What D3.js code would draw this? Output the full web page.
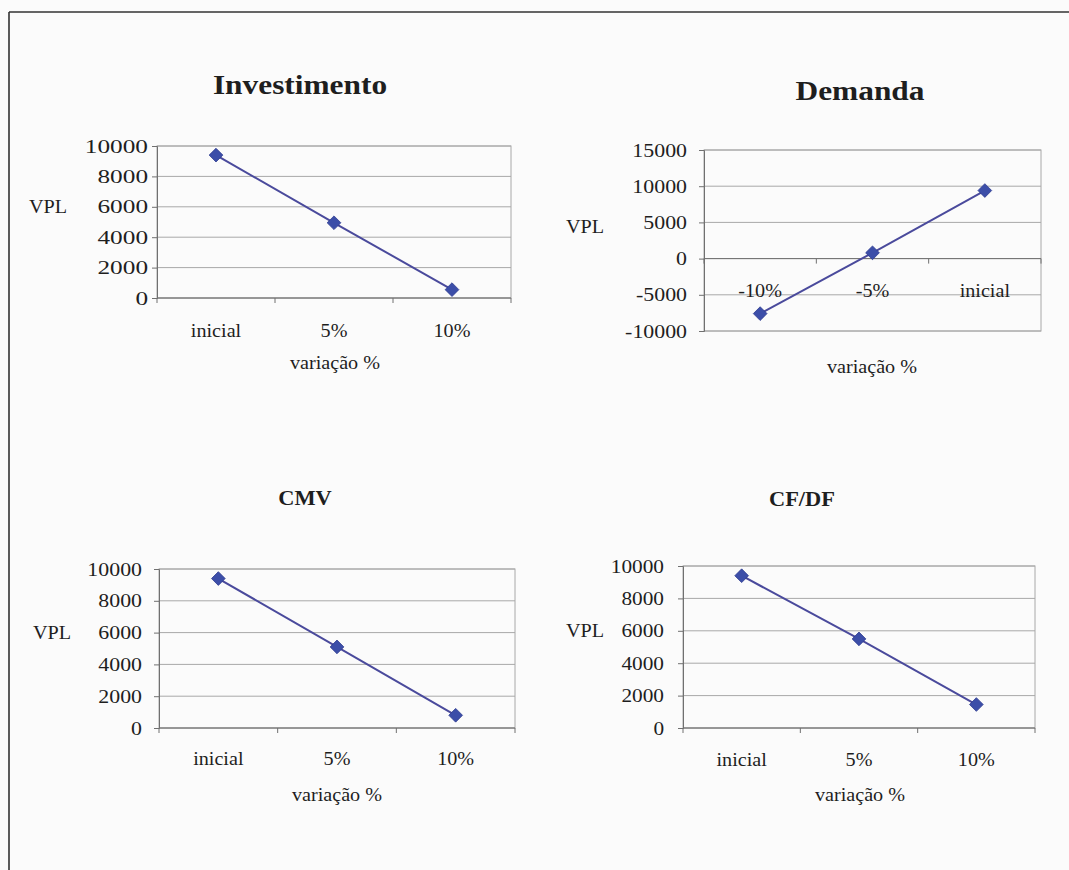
<!DOCTYPE html>
<html>
<head>
<meta charset="utf-8">
<script src="https://cdn.jsdelivr.net/npm/d3@7"></script>
<style>
  body { margin: 0; background: #fbfbfb; }
  svg text { font-family: "Liberation Serif", "Times New Roman", serif; fill: #1e1e1e; }
</style>
</head>
<body>
<svg id="chart" width="1069" height="870"></svg>
<script>
// values
const catsUp = ["inicial", "5%", "10%"];
const catsDemanda = ["-10%", "-5%", "inicial"];
const vplInvestimento = [9400, 4950, 550];
const vplDemanda = [-7600, 800, 9400];
const vplCmv = [9400, 5100, 800];
const vplCfdf = [9400, 5500, 1450];
const ticksPos = [0, 2000, 4000, 6000, 8000, 10000];
const ticksDemanda = [-10000, -5000, 0, 5000, 10000, 15000];

// layout of each panel
var panels = [
  { title: "Investimento", tsize: 28, cats: catsUp, vals: vplInvestimento, ticks: ticksPos, numStretch: 1.33,
    x0: 157, x1: 511, y0: 146, y1: 298, tx: 300, ty: 94, gap: 9, vx: 48, vy: 213, lx: 337, vax: 335, vay: 369 },
  { title: "Demanda", tsize: 28, cats: catsDemanda, vals: vplDemanda, ticks: ticksDemanda, numStretch: 1.15,
    x0: 704, x1: 1041, y0: 150, y1: 331, tx: 860, ty: 100, gap: 17, vx: 585, vy: 233, lx: 297, vax: 872, vay: 373 },
  { title: "CMV", tsize: 20, cats: catsUp, vals: vplCmv, ticks: ticksPos, numStretch: 1.15,
    x0: 159, x1: 515, y0: 569, y1: 728, tx: 305, ty: 505, gap: 17, vx: 52, vy: 639, lx: 765, vax: 337, vay: 801 },
  { title: "CF/DF", tsize: 20, cats: catsUp, vals: vplCfdf, ticks: ticksPos, numStretch: 1.12,
    x0: 683, x1: 1035, y0: 566, y1: 728, tx: 802, ty: 506, gap: 19, vx: 585, vy: 637, lx: 766, vax: 860, vay: 801 }
];

var svg = d3.select("#chart");

// widen a text node a little, the scanned text is wider than the font
function stretch(sel, k) {
  sel.each(function () {
    var w = this.getComputedTextLength();
    d3.select(this).attr("textLength", w * k).attr("lengthAdjust", "spacingAndGlyphs");
  });
}

// frame of the page (top and left edges only)
svg.append("line").attr("x1", 9).attr("x2", 1069).attr("y1", 12).attr("y2", 12)
  .attr("stroke", "#333").attr("stroke-width", 1.6);
svg.append("line").attr("x1", 9).attr("x2", 9).attr("y1", 12).attr("y2", 870)
  .attr("stroke", "#333").attr("stroke-width", 1.6);

panels.forEach(function (p) {
  var g = svg.append("g");

  var x = d3.scaleBand().domain(p.cats).range([p.x0, p.x1]).padding(0);
  var y = d3.scaleLinear().domain(d3.extent(p.ticks)).range([p.y1, p.y0]);

  // title
  g.append("text").attr("class", "lbl").attr("x", p.tx).attr("y", p.ty).attr("text-anchor", "middle")
    .style("font-size", p.tsize + "px").style("font-weight", "bold").text(p.title);

  // grid lines and plot border
  g.selectAll(".grid").data(p.ticks).join("line").attr("class", "grid")
    .attr("x1", p.x0).attr("x2", p.x1)
    .attr("y1", d => y(d)).attr("y2", d => y(d))
    .attr("stroke", "#a8a8a8").attr("stroke-width", 1);
  g.append("rect").attr("x", p.x0).attr("y", p.y0)
    .attr("width", p.x1 - p.x0).attr("height", p.y1 - p.y0)
    .attr("fill", "none").attr("stroke", "#a8a8a8");

  // y axis
  var yAxis = g.append("g").attr("transform", `translate(${p.x0},0)`)
    .call(d3.axisLeft(y).tickValues(p.ticks).tickSize(5).tickPadding(p.gap - 5)
      .tickFormat(d => String(d)));
  yAxis.attr("font-family", null);
  yAxis.select(".domain").attr("stroke", "#707070");
  yAxis.selectAll(".tick line").attr("stroke", "#707070");
  var yLabels = yAxis.selectAll("text").style("font-size", "19px").attr("fill", "#1e1e1e");
  stretch(yLabels, p.numStretch);

  // category axis at zero
  var yz = y(0);
  g.append("line").attr("x1", p.x0).attr("x2", p.x1).attr("y1", yz).attr("y2", yz)
    .attr("stroke", "#707070");
  var edges = p.cats.map(c => x(c)).concat([p.x1]);
  g.selectAll(".xtick").data(edges).join("line").attr("class", "xtick")
    .attr("x1", d => d).attr("x2", d => d).attr("y1", yz).attr("y2", yz + 5)
    .attr("stroke", "#707070");
  g.selectAll(".xlab").data(p.cats).join("text").attr("class", "xlab lbl")
    .attr("x", d => x(d) + x.bandwidth() / 2).attr("y", p.lx)
    .attr("text-anchor", "middle").style("font-size", "18px").text(d => d);

  // axis titles
  g.append("text").attr("class", "lbl").attr("x", p.vx).attr("y", p.vy).attr("text-anchor", "middle")
    .style("font-size", "18px").text("VPL");
  g.append("text").attr("class", "lbl").attr("x", p.vax).attr("y", p.vay).attr("text-anchor", "middle")
    .style("font-size", "18px").text("variação %");

  // series
  var pts = p.cats.map((c, i) => [x(c) + x.bandwidth() / 2, y(p.vals[i])]);
  g.append("path").attr("d", d3.line()(pts))
    .attr("fill", "none").attr("stroke", "#4a4a9c").attr("stroke-width", 2);
  g.selectAll(".mk").data(pts).join("path").attr("class", "mk")
    .attr("transform", d => `translate(${d[0]},${d[1]})`)
    .attr("d", d3.symbol().type(d3.symbolDiamond2).size(120))
    .attr("fill", "#3c4ea8").attr("stroke", "#2e3c90").attr("stroke-width", 0.8);
});

stretch(svg.selectAll("text.lbl"), 1.12);
</script>
</body>
</html>
